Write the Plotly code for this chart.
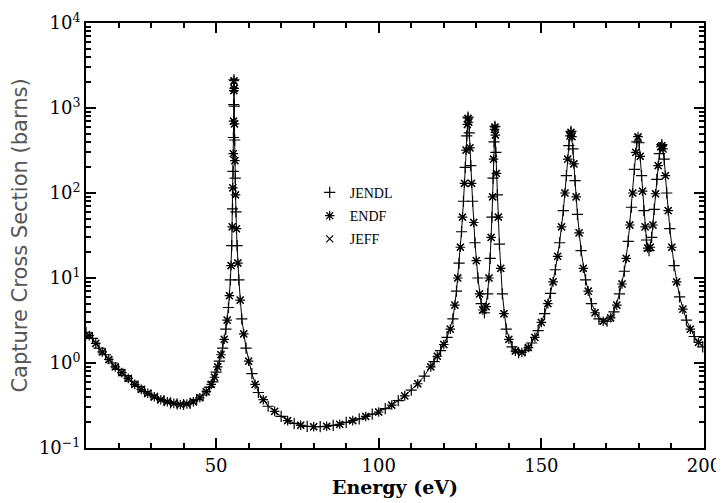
import plotly.graph_objects as go

# ---- data ----
energy_jendl = [10.0, 12.0, 14.0, 16.0, 18.0, 20.0, 22.0, 24.0, 26.0, 28.0, 30.0, 32.0, 34.0, 36.0, 38.0,
                40.0, 42.0, 44.0, 46.0, 48.0, 49.0, 50.0, 51.0, 52.0, 53.0, 53.8, 54.4, 54.8, 55.05, 55.22,
                55.33, 55.41, 55.5, 55.6, 55.7, 55.87, 56.1, 56.45, 57.0, 57.9, 59.2, 61.0, 63.0, 66.0, 70.0,
                74.0, 78.0, 82.0, 86.0, 90.0, 94.0, 98.0, 102.0, 106.0, 110.0, 114.0, 117.0, 119.0, 121.0,
                122.8, 123.9, 124.7, 125.45, 126.05, 126.6, 127.05, 127.45, 127.85, 128.3, 128.85, 129.6,
                130.5, 131.5, 132.5, 133.5, 134.25, 134.8, 135.15, 135.45, 135.72, 136.0, 136.45, 137.1,
                138.0, 139.2, 141.0, 143.0, 145.0, 147.0, 149.0, 151.0, 152.8, 154.3, 155.6, 156.75, 157.7,
                158.45, 159.1, 159.7, 160.35, 161.1, 162.2, 163.6, 165.4, 167.7, 170.2, 172.3, 174.0, 175.5,
                176.7, 177.7, 178.6, 179.35, 180.05, 180.8, 181.5, 182.3, 183.1, 183.9, 184.7, 185.5, 186.3,
                187.05, 187.75, 188.55, 189.5, 190.8, 192.5, 194.6, 197.0, 199.6]
xs_jendl = [2.3, 1.95, 1.5, 1.25, 1.0, 0.84, 0.71, 0.61, 0.53, 0.46, 0.42, 0.385, 0.36, 0.34, 0.33,
            0.325, 0.335, 0.37, 0.42, 0.52, 0.6, 0.78, 1.05, 1.5, 2.5, 4.5, 9.5, 24, 65, 180,
            450, 1100, 2150, 1050, 420, 150, 60, 24, 9.5, 3.3, 1.5, 0.75, 0.45, 0.31, 0.235,
            0.195, 0.18, 0.178, 0.185, 0.2, 0.22, 0.25, 0.29, 0.36, 0.48, 0.7, 1.04, 1.4, 2.0,
            3.3, 7, 15, 35, 80, 200, 470, 780, 510, 210, 80, 26,
            10, 5.0, 3.9, 6.5, 17, 52, 150, 400, 610, 300, 95, 25,
            6.5, 2.5, 1.55, 1.32, 1.4, 1.72, 2.4, 3.8, 6.6, 12.5, 26, 62, 160,
            360, 530, 330, 140, 56, 21, 9.5, 5.0, 3.3, 3.1, 4.0, 6.5, 12,
            27, 68, 190, 400, 390, 160, 62, 28, 21, 30, 64, 145, 290,
            370, 250, 100, 38, 14, 6, 3.2, 2.05, 1.55]

energy_endf = [11.0, 13.0, 15.0, 17.0, 19.0, 21.0, 23.0, 25.0, 27.0, 29.0, 31.0, 33.0, 35.0, 37.0, 39.0,
               41.0, 43.0, 45.0, 47.0, 48.5, 49.5, 50.5, 51.5, 52.5, 53.4, 54.1, 54.6, 54.95, 55.15, 55.28,
               55.37, 55.45, 55.5, 55.55, 55.65, 55.78, 55.97, 56.25, 56.7, 57.4, 58.5, 60.0, 62.0, 64.5,
               68.0, 72.0, 76.0, 80.0, 84.0, 88.0, 92.0, 96.0, 100.0, 104.0, 108.0, 112.0, 116.0, 118.0,
               120.0, 122.0, 123.4, 124.3, 125.1, 125.75, 126.35, 126.85, 127.25, 127.45, 127.65, 128.05,
               128.55, 129.2, 130.0, 131.0, 132.0, 133.0, 133.9, 134.55, 135.0, 135.3, 135.6, 135.72,
               135.85, 136.2, 136.75, 137.5, 138.5, 140.0, 142.0, 144.0, 146.0, 148.0, 150.0, 152.0, 153.6,
               155.0, 156.2, 157.25, 158.1, 158.8, 159.1, 159.4, 160.0, 160.7, 161.6, 162.9, 164.4, 166.5,
               169.0, 171.3, 173.2, 174.8, 176.1, 177.2, 178.1, 179.0, 179.7, 180.4, 181.1, 181.9, 182.7,
               183.5, 184.3, 185.1, 185.9, 186.7, 187.05, 187.4, 188.15, 189.0, 190.1, 191.6, 193.5, 195.8,
               198.3]
xs_endf = [2.1, 1.7, 1.35, 1.1, 0.9, 0.77, 0.66, 0.56, 0.49, 0.44, 0.40, 0.37, 0.35, 0.335, 0.325,
           0.33, 0.35, 0.39, 0.46, 0.56, 0.68, 0.9, 1.25, 1.9, 3.2, 6.2, 14, 40, 115, 290,
           700, 1600, 2100, 1700, 650, 240, 95, 38, 15, 5.5, 2.2, 1.05, 0.56, 0.37,
           0.27, 0.21, 0.185, 0.178, 0.18, 0.19, 0.21, 0.235, 0.265, 0.32, 0.41, 0.57, 0.9, 1.2,
           1.65, 2.5, 4.8, 10, 23, 52, 130, 320, 640, 760, 680, 340,
           130, 45, 16, 6.5, 4.2, 4.6, 10, 30, 90, 250, 560, 600,
           480, 170, 52, 13, 3.8, 1.9, 1.38, 1.33, 1.52, 2.0, 3.0, 5.0, 9,
           18, 40, 100, 250, 470, 520, 460, 220, 90, 34, 13, 7, 3.9,
           3.1, 3.4, 4.8, 8.5, 17, 42, 100, 300, 460, 270, 105, 40, 22.5,
           23, 42, 98, 210, 350, 360, 330, 160, 62, 23, 9, 4.3, 2.5,
           1.75]

energy_jeff = [11.0, 13.0, 15.0, 17.0, 19.0, 21.0, 23.0, 25.0, 27.0, 29.0, 31.0, 33.0, 35.0, 37.0, 39.0,
               41.0, 43.0, 45.0, 47.0, 48.5, 49.5, 50.5, 51.5, 52.5, 53.4, 54.1, 54.6, 54.95, 55.15, 55.28,
               55.37, 55.45, 55.5, 55.55, 55.65, 55.78, 55.97, 56.25, 56.7, 57.4, 58.5, 60.0, 62.0, 64.5,
               68.0, 72.0, 76.0, 80.0, 84.0, 88.0, 92.0, 96.0, 100.0, 104.0, 108.0, 112.0, 116.0, 118.0,
               120.0, 122.0, 123.4, 124.3, 125.1, 125.75, 126.35, 126.85, 127.25, 127.45, 127.65, 128.05,
               128.55, 129.2, 130.0, 131.0, 132.0, 133.0, 133.9, 134.55, 135.0, 135.3, 135.6, 135.72,
               135.85, 136.2, 136.75, 137.5, 138.5, 140.0, 142.0, 144.0, 146.0, 148.0, 150.0, 152.0, 153.6,
               155.0, 156.2, 157.25, 158.1, 158.8, 159.1, 159.4, 160.0, 160.7, 161.6, 162.9, 164.4, 166.5,
               169.0, 171.3, 173.2, 174.8, 176.1, 177.2, 178.1, 179.0, 179.7, 180.4, 181.1, 181.9, 182.7,
               183.5, 184.3, 185.1, 185.9, 186.7, 187.05, 187.4, 188.15, 189.0, 190.1, 191.6, 193.5, 195.8,
               198.3]
xs_jeff = [2.1, 1.7, 1.35, 1.1, 0.9, 0.77, 0.66, 0.56, 0.49, 0.44, 0.40, 0.37, 0.35, 0.335, 0.325,
           0.33, 0.35, 0.39, 0.46, 0.56, 0.68, 0.9, 1.25, 1.9, 3.2, 6.2, 14, 40, 115, 290,
           700, 1600, 2050, 1700, 650, 240, 95, 38, 15, 5.5, 2.2, 1.05, 0.56, 0.37,
           0.27, 0.21, 0.185, 0.178, 0.18, 0.19, 0.21, 0.235, 0.265, 0.32, 0.41, 0.57, 0.9, 1.2,
           1.65, 2.5, 4.8, 10, 23, 52, 130, 320, 640, 750, 680, 340,
           130, 45, 16, 6.5, 4.2, 4.6, 10, 30, 90, 250, 560, 590,
           480, 170, 52, 13, 3.8, 1.9, 1.38, 1.33, 1.52, 2.0, 3.0, 5.0, 9,
           18, 40, 100, 250, 470, 510, 460, 220, 90, 34, 13, 7, 3.9,
           3.1, 3.4, 4.8, 8.5, 17, 42, 100, 300, 450, 270, 105, 40, 22.5,
           23, 42, 98, 210, 350, 360, 330, 160, 62, 23, 9, 4.3, 2.5,
           1.75]

x_tick_vals = [50, 100, 150, 200]
x_minor_vals = [20, 30, 40, 60, 70, 80, 90, 110, 120, 130, 140, 160, 170, 180, 190]
y_tick_vals = [0.1, 1, 10, 100, 1000, 10000]
y_tick_text = ["10<sup>−1</sup>", "10<sup>0</sup>", "10<sup>1</sup>", "10<sup>2</sup>", "10<sup>3</sup>", "10<sup>4</sup>"]
y_minor_vals = [m * 10 ** d for d in range(-1, 4) for m in range(2, 10)]

fig = go.Figure()

# thin line through JENDL points
fig.add_trace(go.Scatter(x=energy_jendl, y=xs_jendl, mode="lines",
                         line=dict(color="black", width=1), showlegend=False, hoverinfo="skip"))
fig.add_trace(go.Scatter(x=energy_jendl, y=xs_jendl, mode="markers", name="JENDL", legendgroup="a",
                         marker=dict(symbol="cross-thin-open", size=8, color="black",
                                     line=dict(width=1.2, color="black"))))
fig.add_trace(go.Scatter(x=energy_endf, y=xs_endf, mode="markers", name="ENDF", legendgroup="b",
                         marker=dict(symbol="asterisk-open", size=8, color="black",
                                     line=dict(width=1.2, color="black"))))
fig.add_trace(go.Scatter(x=energy_jeff, y=xs_jeff, mode="markers", name="JEFF", legendgroup="c",
                         marker=dict(symbol="x-thin-open", size=7, color="black",
                                     line=dict(width=1.2, color="black"))))

axis_common = dict(showline=True, linecolor="black", linewidth=2, mirror="ticks", automargin=False,
                   ticks="inside", tickcolor="black", tickwidth=1.5, showgrid=False, zeroline=False)

fig.update_xaxes(range=[10, 200], tickvals=x_tick_vals, ticklen=10,
                 minor=dict(tickvals=x_minor_vals, ticks="inside", ticklen=5, tickcolor="black", tickwidth=1.5),
                 tickfont=dict(family="DejaVu Serif", size=18, color="black"),
                 title=dict(text="<b>Energy (eV)</b>", font=dict(family="DejaVu Serif", size=19, color="black"),
                            standoff=4),
                 **axis_common)
fig.update_yaxes(type="log", range=[-1, 4], tickvals=y_tick_vals, ticktext=y_tick_text, ticklen=10,
                 minor=dict(tickvals=y_minor_vals, ticks="inside", ticklen=5, tickcolor="black", tickwidth=1.5),
                 tickfont=dict(family="DejaVu Serif", size=18, color="black"),
                 title=dict(text="Capture Cross Section (barns)",
                            font=dict(family="DejaVu Sans", size=21, color="#555555"), standoff=8),
                 **axis_common)

# the page body adds an 8 px offset, so the figure is 8 px smaller and margins shifted
fig.update_layout(
    width=716, height=495,
    margin=dict(l=78, r=19.5, t=15, b=55, autoexpand=False),
    paper_bgcolor="white", plot_bgcolor="white",
    legend=dict(x=0.362, y=0.638, xanchor="left", yanchor="top",
                font=dict(family="Liberation Serif", size=14, color="black"),
                bgcolor="rgba(0,0,0,0)", itemwidth=30, tracegroupgap=2),
)

fig.write_html("out.html")
